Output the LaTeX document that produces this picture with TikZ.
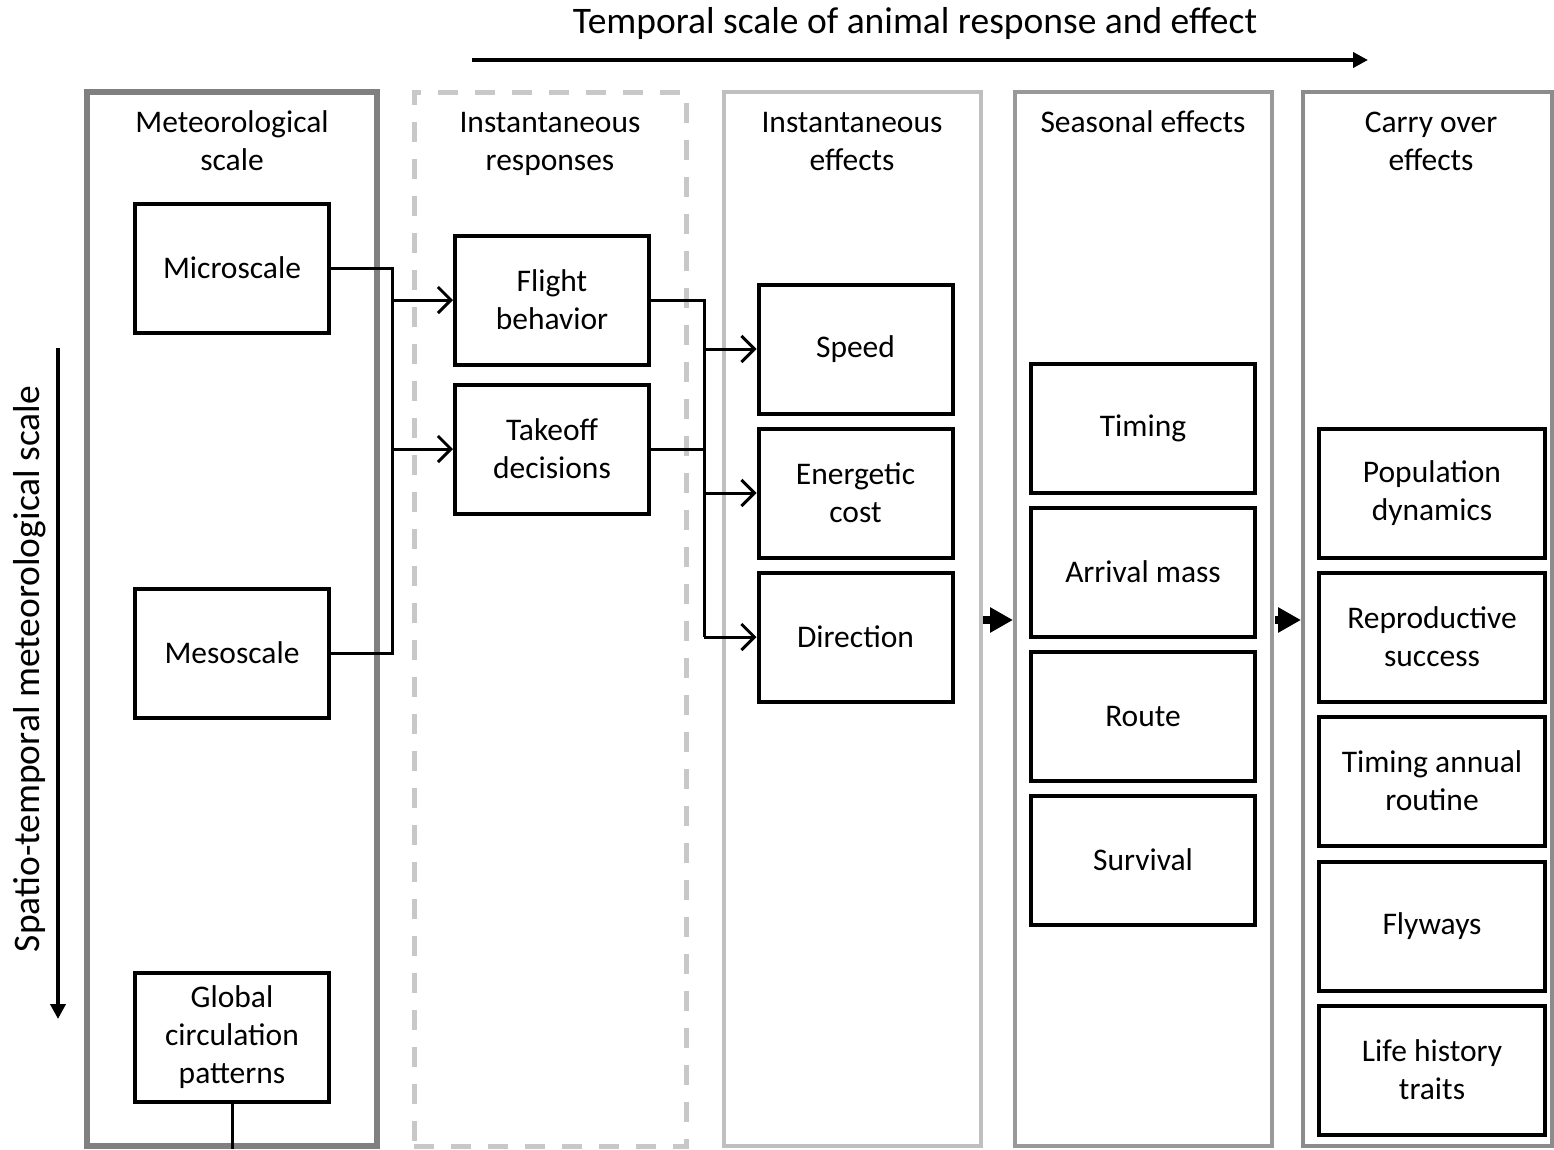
\documentclass[tikz,border=0pt]{standalone}
\usepackage{fontspec}
\setmainfont{Carlito}
\usetikzlibrary{arrows.meta}
\definecolor{cA}{HTML}{808080}
\definecolor{cB}{HTML}{C8C8C8}
\definecolor{cC}{HTML}{BFBFBF}
\definecolor{cD}{HTML}{999999}
\definecolor{cE}{HTML}{8C8C8C}
\begin{document}
\begin{tikzpicture}[x=1pt,y=-1pt,
  font=\fontsize{31.5}{38}\selectfont,
  ibox/.style={draw=black,line width=4pt,minimum width=194pt,minimum height=129pt,align=center,inner sep=0pt},
  sbox/.style={ibox,minimum width=224pt},
  col/.style={minimum height=1054pt,inner sep=0pt},
  hdr/.style={align=center,inner sep=0pt},
  axlab/.style={inner sep=0pt,font=\fontsize{37.5}{46}\selectfont},
  link/.style={line width=3pt},
  arr/.style={line width=3pt,-{Straight Barb[length=13pt,width=26pt]}},
  bigarr/.style={line width=8pt,-{Triangle[length=23pt,width=24pt]}},
  axarr/.style={line width=4pt,-{Triangle[length=15pt,width=15pt]}}]
\useasboundingbox (0,0) rectangle (1554,1149);
% columns
\node[col,draw=cA,line width=6pt,minimum width=290pt] (c1) at (232,619) {};
\node[col,draw=cB,line width=5pt,dash pattern=on 20pt off 17pt,minimum width=272pt] (c2) at (550,619) {};
\node[col,draw=cC,line width=4pt,minimum width=257pt] (c3) at (852.5,619) {};
\node[col,draw=cD,line width=4pt,minimum width=257pt] (c4) at (1143.5,619) {};
\node[col,draw=cE,line width=4pt,minimum width=249pt] (c5) at (1427.5,619) {};
% headers
\node[hdr] (h1) at (232,141) {Meteorological\\scale};
\node[hdr] (h2) at (550,144) {Instantaneous\\responses};
\node[hdr] (h3) at (852,142) {Instantaneous\\effects};
\node[hdr] (h4) at (1143,122) {Seasonal effects};
\node[hdr] (h5) at (1431,141) {Carry over\\effects};
% axes
\node[axlab] (tt) at (915,23) {Temporal scale of animal response and effect};
\coordinate (ta) at (472,60);
\coordinate (tb) at (1368,60);
\draw[axarr] (ta) -- (tb);
\node[axlab,rotate=90] (lt) at (30,669) {Spatio-temporal meteorological scale};
\coordinate (la) at (58,348);
\coordinate (lb) at (58,1019);
\draw[axarr] (la) -- (lb);
% column 1
\node[ibox] (micro) at (232,268) {Microscale};
\node[ibox] (meso) at (232,653) {Mesoscale};
\node[ibox] (glob) at (232,1037) {Global\\circulation\\patterns};
\coordinate (gend) at (232,1149);
\draw[link] (glob.south) -- (gend);
% column 2
\node[ibox] (flight) at (552,300) {Flight\\behavior};
\node[ibox] (take) at (552,449) {Takeoff\\decisions};
% column 3
\node[ibox] (speed) at (855.5,349) {Speed};
\node[ibox] (energy) at (855.5,493) {Energetic\\cost};
\node[ibox] (dir) at (855.5,637) {Direction};
% column 4
\node[sbox] (timing) at (1143,428) {Timing};
\node[sbox] (mass) at (1143,572) {Arrival mass};
\node[sbox] (route) at (1143,716) {Route};
\node[sbox] (surv) at (1143,860) {Survival};
% column 5
\node[sbox,minimum width=226pt] (pop) at (1432,493) {Population\\dynamics};
\node[sbox,minimum width=226pt] (repro) at (1432,637) {Reproductive\\success};
\node[sbox,minimum width=226pt] (annual) at (1432,781) {Timing annual\\routine};
\node[sbox,minimum width=226pt] (fly) at (1432,926) {Flyways};
\node[sbox,minimum width=226pt] (life) at (1432,1070) {Life history\\traits};
% connectors
\coordinate (j1) at (392,0);
\coordinate (j2) at (704,0);
\draw[link] (micro.east) -- (micro.east -| j1) -- (meso.east -| j1) -- (meso.east);
\draw[arr] (flight.west -| j1) -- (flight.west);
\draw[arr] (take.west -| j1) -- (take.west);
\draw[link] (flight.east) -- (flight.east -| j2) -- (dir.west -| j2);
\draw[link] (take.east) -- (take.east -| j2);
\draw[arr] (speed.west -| j2) -- (speed.west);
\draw[arr] (energy.west -| j2) -- (energy.west);
\draw[arr] (dir.west -| j2) -- (dir.west);
% between columns
\coordinate (b1s) at (983,620);
\coordinate (b1e) at (1013,620);
\coordinate (b2s) at (1275,620);
\coordinate (b2e) at (1301,620);
\draw[bigarr] (b1s) -- (b1e);
\draw[bigarr] (b2s) -- (b2e);
\end{tikzpicture}
\end{document}
